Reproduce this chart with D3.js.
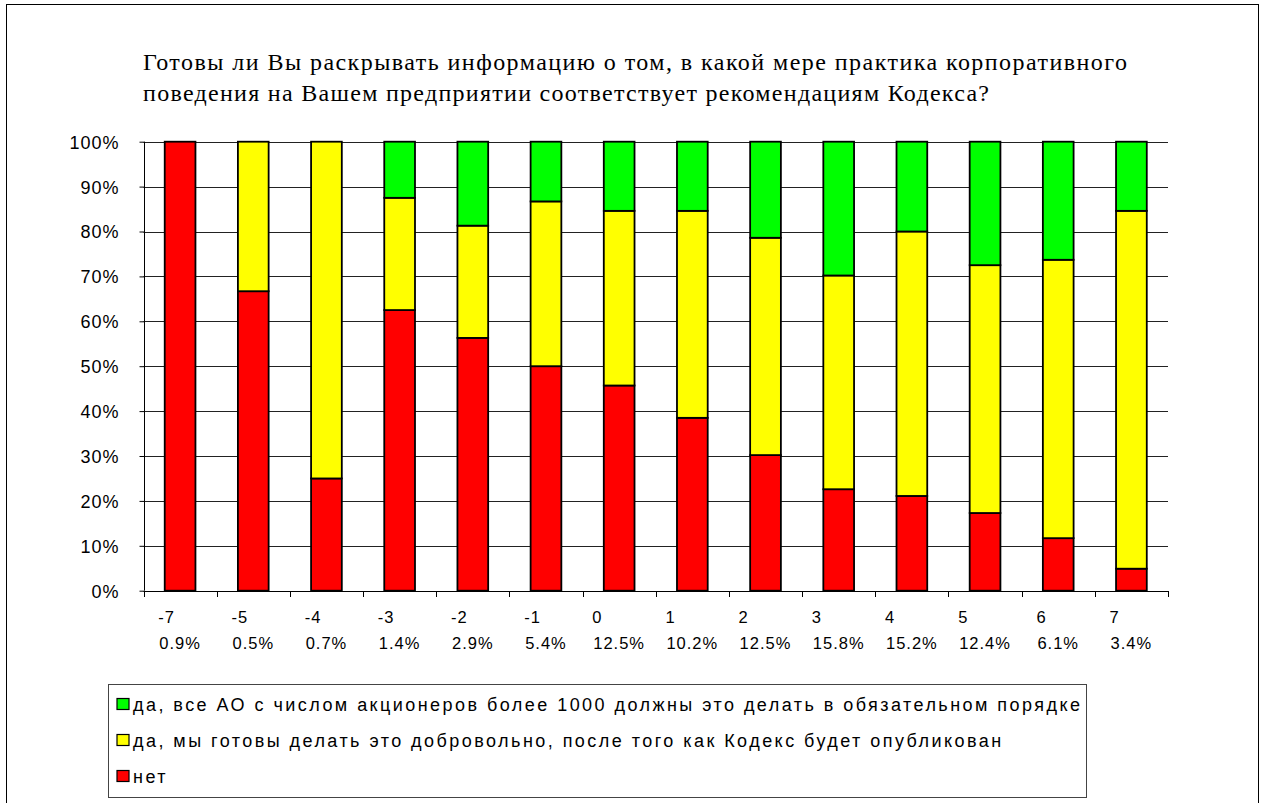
<!DOCTYPE html>
<html>
<head>
<meta charset="utf-8">
<script src="https://cdn.jsdelivr.net/npm/d3@7"></script>
<style>
  body { margin: 0; background: #fff; }
  svg { display: block; }
  .title { font-family: "Liberation Serif", "Times New Roman", "DejaVu Serif", serif; }
  .sans { font-family: "Liberation Sans", Arial, sans-serif; }
</style>
</head>
<body>
<svg id="chart" width="1265" height="803"></svg>
<script>
// chart data
const categories = ["-7", "-5", "-4", "-3", "-2", "-1", "0", "1", "2", "3", "4", "5", "6", "7"];
const shares = ["0.9%", "0.5%", "0.7%", "1.4%", "2.9%", "5.4%", "12.5%", "10.2%", "12.5%", "15.8%", "15.2%", "12.4%", "6.1%", "3.4%"];
// percent of answers per group, bottom to top
const no = [100, 66.7, 25, 62.5, 56.3, 50, 45.7, 38.5, 30.2, 22.6, 21.1, 17.3, 11.7, 4.9];
const voluntary = [0, 33.3, 75, 25, 25, 36.7, 38.9, 46.1, 48.4, 47.6, 58.9, 55.2, 62.0, 79.7];
const mandatory = [0, 0, 0, 12.5, 18.7, 13.3, 15.4, 15.4, 21.4, 29.8, 20.0, 27.5, 26.3, 15.4];
const yTicks = [0, 10, 20, 30, 40, 50, 60, 70, 80, 90, 100];

const titleLines = [
  "Готовы ли Вы раскрывать информацию о том, в какой мере практика корпоративного",
  "поведения на Вашем предприятии соответствует рекомендациям Кодекса?"
];

const series = [
  { key: "no", label: "нет", color: "#ff0000", values: no },
  { key: "voluntary", label: "да, мы готовы делать это добровольно, после того как Кодекс будет опубликован", color: "#ffff00", values: voluntary },
  { key: "mandatory", label: "да, все АО с числом акционеров более 1000 должны это делать в обязательном порядке", color: "#00ff00", values: mandatory }
];

const svg = d3.select("#chart");

// outer chart frame
svg.append("rect")
  .attr("x", 6.5).attr("y", 4.5)
  .attr("width", 1252).attr("height", 820)
  .attr("fill", "#fff").attr("stroke", "#000").attr("stroke-width", 1);

// title (serif, two lines)
const titleWidths = [984, 846];
svg.append("g").selectAll("text")
  .data(titleLines)
  .join("text")
  .attr("class", "title")
  .attr("x", 143)
  .attr("y", (d, i) => 70 + i * 31)
  .attr("font-size", 24)
  .attr("fill", "#000")
  .attr("textLength", (d, i) => titleWidths[i])
  .attr("lengthAdjust", "spacing")
  .text(d => d);

// plot area
const plotLeft = 143.5, plotRight = 1168, plotTop = 141.7, plotBottom = 590.7;

const x = d3.scaleBand()
  .domain(categories)
  .range([plotLeft, plotRight])
  .paddingInner(0.58)
  .paddingOuter(0.29);

const y = d3.scaleLinear().domain([0, 100]).range([plotBottom, plotTop]);

// gridlines
svg.append("g")
  .selectAll("line")
  .data(yTicks.filter(d => d > 0))
  .join("line")
  .attr("x1", plotLeft).attr("x2", plotRight)
  .attr("y1", d => Math.round(y(d)) + 0.5).attr("y2", d => Math.round(y(d)) + 0.5)
  .attr("stroke", "#222").attr("stroke-width", 1);

// y axis
const yAxis = svg.append("g")
  .attr("transform", `translate(${Math.round(plotLeft) + 0.5},0)`)
  .call(d3.axisLeft(y).tickValues(yTicks).tickSize(5).tickPadding(20).tickFormat(d => d + "%"));
yAxis.attr("font-family", null).attr("font-size", null);
yAxis.select(".domain").attr("stroke", "#000").attr("d", `M0,${plotTop}V${plotBottom}`);
yAxis.selectAll(".tick line").attr("stroke", "#000");
yAxis.selectAll(".tick text")
  .attr("class", "sans")
  .attr("font-size", 18)
  .attr("letter-spacing", 1)
  .attr("dy", "0.36em")
  .attr("fill", "#000");

// stacked bars
const rows = categories.map((c, i) => {
  const r = { cat: c };
  series.forEach(s => { r[s.key] = s.values[i]; });
  return r;
});
const stacked = d3.stack().keys(series.map(s => s.key))(rows);

svg.append("g")
  .selectAll("g")
  .data(stacked)
  .join("g")
  .attr("fill", (d, i) => series[i].color)
  .selectAll("rect")
  .data(d => d.filter(p => p[1] - p[0] > 0))
  .join("rect")
  .attr("x", d => x(d.data.cat))
  .attr("y", d => y(d[1]))
  .attr("width", x.bandwidth())
  .attr("height", d => y(d[0]) - y(d[1]))
  .attr("stroke", "#000")
  .attr("stroke-width", 1.8);

// x axis line and boundary ticks
const step = x.step();
const xAxis = svg.append("g");
xAxis.append("line")
  .attr("x1", plotLeft).attr("x2", plotRight)
  .attr("y1", Math.round(plotBottom) + 0.5).attr("y2", Math.round(plotBottom) + 0.5)
  .attr("stroke", "#000");
xAxis.selectAll("line.tick")
  .data(d3.range(categories.length + 1))
  .join("line")
  .attr("class", "tick")
  .attr("x1", i => Math.round(plotLeft + i * step) + 0.5)
  .attr("x2", i => Math.round(plotLeft + i * step) + 0.5)
  .attr("y1", Math.round(plotBottom))
  .attr("y2", Math.round(plotBottom) + 6)
  .attr("stroke", "#000");

// two-line category labels: group number over its share of answers
const labels = xAxis.selectAll("g.lab")
  .data(categories)
  .join("g")
  .attr("class", "lab sans");
labels.append("text")
  .attr("class", "share")
  .attr("x", d => x(d) + x.bandwidth() / 2)
  .attr("y", 649)
  .attr("text-anchor", "middle")
  .attr("font-size", 16.5)
  .attr("letter-spacing", 1)
  .attr("fill", "#000")
  .text((d, i) => shares[i]);
labels.each(function (d) {
  const g = d3.select(this);
  const w = g.select("text.share").node().getComputedTextLength();
  g.append("text")
    .attr("x", x(d) + x.bandwidth() / 2 - w / 2 - 1)
    .attr("y", 623)
    .attr("font-size", 16.5)
    .attr("letter-spacing", 1)
    .attr("fill", "#000")
    .text(d);
});

// legend
const legend = svg.append("g").attr("class", "sans");
legend.append("rect")
  .attr("x", 108.5).attr("y", 684.5)
  .attr("width", 978).attr("height", 113)
  .attr("fill", "#fff").attr("stroke", "#444").attr("stroke-width", 1);

const legendItems = series.slice().reverse();
const item = legend.selectAll("g.item")
  .data(legendItems)
  .join("g")
  .attr("class", "item")
  .attr("transform", (d, i) => `translate(0,${704 + i * 36})`);
item.append("rect")
  .attr("x", 117).attr("y", -5.5)
  .attr("width", 12).attr("height", 11)
  .attr("fill", d => d.color)
  .attr("stroke", "#000").attr("stroke-width", 1.2);
const legendText = item.append("text")
  .attr("x", 133).attr("y", 7)
  .attr("font-size", 18)
  .attr("fill", "#000")
  .text(d => d.label);

// match the wide letter spacing of the original legend (first line spans ~947px)
const firstNode = legendText.nodes()[0];
const natural = firstNode.getComputedTextLength();
const nChars = legendItems[0].label.length;
const ls = (947 - natural) / (nChars - 1);
legendText.attr("letter-spacing", ls);
</script>
</body>
</html>
